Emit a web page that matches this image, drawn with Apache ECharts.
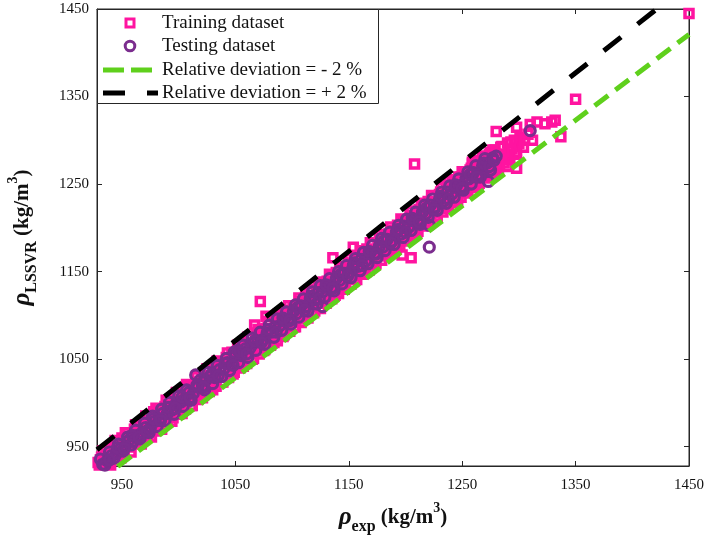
<!DOCTYPE html>
<html>
<head>
<meta charset="utf-8">
<script src="https://cdn.jsdelivr.net/npm/echarts@6/dist/echarts.min.js"></script>
<style>
html,body{margin:0;padding:0;background:#fff;}
#chart{width:709px;height:541px;}
</style>
</head>
<body>
<div id="chart"></div>
<script>
// ---- data ----
const tickValues = [950, 1050, 1150, 1250, 1350, 1450];
const axisMin = 928, axisMax = 1450;

const trainingData = [
[929,932],[930,929],[932,938],[934,930],[936,941],[937,931],[939,946],[941,936],[943,940],[945,951],[946,938],[948,944],[950,960],[952,945],[954,951],[955,966],[957,950],[959,955],[961,970],[963,954],[964,962],[966,975],[968,960],[970,966],[972,980],[973,962],[975,972],[977,985],[979,968],[981,975],[982,990],[984,972],[986,982],[988,996],[990,978],[991,988],[993,1002],[995,983],[997,991],[999,1008],[1000,987],[1002,998],[1004,1013],[1006,993],[1008,1003],[1009,1018],[1011,997],[1013,1009],[1015,1024],[1017,1004],[1018,1014],[1020,1031],[1022,1009],[1024,1020],[1026,1036],[1027,1013],[1029,1025],[1031,1042],[1033,1019],[1035,1030],[1036,1047],[1038,1024],[1040,1036],[1042,1052],[1044,1029],[1045,1041],[1047,1058],[1049,1035],[1051,1046],[1053,1063],[1054,1040],[1056,1051],[1058,1068],[1060,1045],[1062,1057],[1063,1074],[1065,1050],[1067,1062],[1069,1079],[1071,1056],[1072,1067],[1074,1084],[1076,1061],[1078,1073],[1080,1090],[1081,1066],[1083,1078],[1085,1095],[1087,1071],[1089,1084],[1090,1100],[1092,1076],[1094,1089],[1096,1106],[1098,1082],[1099,1094],[1101,1111],[1103,1087],[1105,1100],[1107,1116],[1108,1092],[1110,1105],[1112,1122],[1114,1097],[1116,1110],[1117,1127],[1119,1103],[1121,1116],[1123,1132],[1125,1108],[1126,1121],[1128,1138],[1130,1114],[1132,1127],[1134,1143],[1135,1119],[1137,1132],[1139,1149],[1141,1125],[1143,1138],[1144,1154],[1146,1130],[1148,1143],[1150,1160],[1152,1136],[1153,1148],[1155,1165],[1157,1141],[1159,1154],[1161,1170],[1162,1147],[1164,1159],[1166,1176],[1168,1152],[1170,1165],[1171,1181],[1173,1158],[1175,1170],[1177,1187],[1179,1163],[1180,1175],[1182,1192],[1184,1169],[1186,1181],[1188,1197],[1189,1174],[1191,1186],[1193,1203],[1195,1180],[1197,1192],[1198,1208],[1200,1185],[1202,1197],[1204,1214],[1206,1191],[1207,1202],[1209,1219],[1211,1196],[1213,1208],[1215,1225],[1216,1202],[1218,1213],[1220,1230],[1222,1207],[1224,1219],[1225,1236],[1227,1213],[1229,1224],[1231,1241],[1233,1218],[1234,1230],[1236,1247],[1238,1224],[1240,1235],[1242,1252],[1243,1229],[1245,1241],[1247,1258],[1249,1235],[1251,1246],[1252,1263],[1254,1240],[1256,1252],[1258,1268],[1260,1246],[1261,1257],[1263,1274],[1265,1251],[1267,1263],[1269,1279],[1270,1257],[1272,1268],[1274,1284],[1276,1262],[1278,1273],[1279,1289],[1281,1268],[1283,1279],[1285,1293],[1287,1274],[1288,1284],[1290,1297],[1292,1280],[1294,1290],[1296,1300],[1298,1286],[1300,1296],
[931,935],[935,938],[938,933],[942,949],[947,941],[951,955],[956,950],[960,964],[965,958],[969,973],[974,969],[978,990],[983,977],[987,991],[992,985],[996,1004],[1001,994],[1005,1009],[1010,1004],[1014,1020],[1019,1011],[1023,1028],[1028,1019],[1032,1038],[1037,1031],[1041,1047],[1046,1038],[1050,1057],[1055,1047],[1059,1066],[1064,1058],[1068,1075],[1073,1064],[1077,1085],[1082,1074],[1086,1092],[1091,1082],[1095,1101],[1100,1093],[1104,1111],[1109,1100],[1113,1119],[1118,1110],[1122,1129],[1127,1117],[1131,1139],[1136,1127],[1140,1147],[1145,1136],[1149,1156],[1154,1145],[1158,1166],[1163,1155],[1167,1174],[1172,1163],[1176,1183],[1181,1172],[1185,1193],[1190,1181],[1194,1201],[1199,1190],[1203,1210],[1208,1199],[1212,1221],[1217,1208],[1221,1229],[1226,1217],[1230,1238],[1235,1226],[1239,1248],[1244,1234],[1248,1257],[1253,1244],[1257,1266],[1262,1252],[1266,1276],[1271,1261],[1275,1286],[1280,1270],[1284,1292],[1289,1278],[1293,1298],[1297,1284],[1301,1303],[1304,1292],[1308,1307],[1312,1300],
[933,945],[940,929],[944,957],[949,937],[953,966],[958,944],[962,975],[967,953],[971,985],[976,961],[980,994],[985,970],[989,1003],[994,979],[998,1012],[1003,988],[1007,1021],[1012,997],[1016,1030],[1021,1006],[1025,1039],[1030,1015],[1034,1048],[1039,1024],[1043,1057],[1048,1033],[1052,1066],[1057,1042],[1061,1075],[1066,1051],[1070,1084],[1075,1060],[1079,1093],[1084,1069],[1088,1102],[1093,1078],[1097,1111],[1102,1087],[1106,1120],[1111,1096],[1115,1129],[1120,1105],[1124,1138],[1129,1114],[1133,1147],[1138,1123],[1142,1156],[1147,1132],[1151,1165],[1156,1141],[1160,1174],[1165,1150],[1169,1183],[1174,1159],[1178,1192],[1183,1168],[1187,1201],[1192,1177],[1196,1210],[1201,1186],[1205,1219],[1210,1195],[1214,1228],[1219,1204],[1223,1237],[1228,1213],[1232,1246],[1237,1222],[1241,1255],[1246,1231],[1250,1264],[1255,1240],[1259,1273],[1264,1249],[1268,1282],[1273,1258],[1277,1289],[1282,1265],
[1072,1116],[1067,1089],[1077,1099],[1136,1166],[1154,1178],[1208,1273],[1205,1166],[1197,1169],[1280,1310],[1298,1315],[1316,1321],[1323,1319],[1329,1321],[1332,1323],[1337,1304],[1350,1347],[1450,1445],[1260,1277],[1298,1268],[1310,1318],[1305,1300],[1290,1270],[1259,1275],[1249,1258],[1238,1254]
];

const testingData = [
[933,930],[937,934],[941,940],[945,942],[949,948],[953,951],[956,957],[960,956],[964,963],[968,966],[971,972],[975,971],[979,979],[983,981],[986,988],[990,988],[994,992],[998,1000],[1002,1001],[1005,1004],[1009,1012],[1013,1011],[1015,1032],[1017,1018],[1021,1019],[1024,1026],[1028,1030],[1032,1029],[1036,1038],[1040,1039],[1043,1046],[1047,1044],[1050,1055],[1052,1060],[1055,1054],[1059,1062],[1063,1063],[1066,1068],[1070,1071],[1074,1072],[1078,1080],[1082,1081],[1085,1087],[1089,1088],[1093,1094],[1097,1096],[1101,1104],[1104,1102],[1108,1111],[1112,1110],[1116,1119],[1120,1118],[1123,1126],[1127,1110],[1127,1127],[1131,1133],[1135,1132],[1139,1142],[1142,1140],[1146,1148],[1150,1149],[1154,1157],[1158,1156],[1161,1164],[1165,1162],[1169,1172],[1173,1171],[1177,1179],[1180,1178],[1184,1187],[1188,1185],[1192,1195],[1196,1193],[1199,1202],[1203,1201],[1207,1209],[1211,1209],[1215,1218],[1218,1216],[1221,1203],[1221,1178],[1222,1226],[1226,1224],[1230,1233],[1234,1231],[1237,1241],[1241,1239],[1245,1248],[1249,1247],[1253,1255],[1256,1256],[1260,1263],[1264,1261],[1268,1271],[1272,1274],[1273,1253],[1277,1280],[1310,1311],
[931,936],[935,929],[939,944],[943,937],[947,953],[951,945],[955,961],[958,952],[962,969],[966,959],[970,977],[974,966],[977,985],[981,973],[985,993],[988,980],[992,1001],[996,987],[1000,1008],[1004,996],[1007,1015],[1011,1003],[1019,1026],[1023,1015],[1026,1035],[1030,1022],[1034,1043],[1038,1030],[1042,1051],[1045,1037],[1049,1058],[1053,1046],[1057,1066],[1061,1052],[1065,1074],[1068,1060],[1072,1081],[1076,1067],[1080,1089],[1084,1075],[1087,1096],[1091,1083],[1095,1104],[1099,1090],[1103,1112],[1106,1098],[1110,1119],[1114,1105],[1118,1127],[1122,1113],[1125,1134],[1129,1121],[1133,1142],[1137,1128],[1141,1150],[1144,1136],[1148,1157],[1152,1143],[1156,1165],[1160,1151],[1163,1172],[1167,1159],[1171,1180],[1175,1166],[1179,1188],[1182,1174],[1186,1195],[1190,1181],[1194,1203],[1198,1189],[1201,1210],[1205,1197],[1209,1218],[1213,1204],[1217,1226],[1220,1212],[1224,1233],[1228,1220],[1232,1241],[1236,1228],[1239,1248],[1243,1235],[1247,1256],[1251,1243],[1255,1264],[1258,1250],[1262,1271],[1266,1258],[1270,1279],[1275,1266],[1280,1282],
[939,935],[946,949],[952,948],[959,963],[965,961],[972,968],[978,982],[984,980],[991,995],[997,994],[1003,1007],[1010,1006],[1016,1020],[1022,1018],[1029,1033],[1035,1031],[1041,1045],[1048,1043],[1054,1059],[1060,1056],[1067,1071],[1073,1069],[1079,1084],[1086,1081],[1092,1097],[1098,1094],[1105,1109],[1111,1106],[1117,1122],[1124,1119],[1130,1135],[1136,1131],[1143,1147],[1149,1145],[1155,1160],[1162,1157],[1168,1173],[1174,1170],[1181,1185],[1187,1183],[1193,1198],[1200,1195],[1206,1211],[1212,1207],[1219,1223],[1225,1221],[1231,1236],[1238,1233],[1244,1249],[1250,1245],[1257,1261],[1263,1258],[1269,1274],[1274,1270],[1278,1277]
];

const minusLine = [[928, 909.4], [1450, 1421]];
const plusLine = [[928, 946.6], [1450, 1479]];

const legendNames = ['Training dataset', 'Testing dataset', 'Relative deviation = - 2 %', 'Relative deviation = + 2 %'];

// ---- styles ----
const serif = 'Liberation Serif';
const axisColor = '#262626';
const pink = '#FF14A0';
const purple = '#7B2D8E';
const green = '#5FD01C';

const chart = echarts.init(document.getElementById('chart'), null, {renderer: 'canvas'});

function fmt(v) { return String(v); }
function mainAxis(extra) {
  return Object.assign({
    type: 'value', min: axisMin, max: axisMax,
    splitLine: {show: false},
    axisLine: {show: true, onZero: false, lineStyle: {color: axisColor, width: 1}},
    axisTick: {show: true, inside: true, length: 5, customValues: tickValues, lineStyle: {color: axisColor}}
  }, extra);
}
function mirrorAxis(extra) {
  return Object.assign({
    type: 'value', min: axisMin, max: axisMax,
    splitLine: {show: false},
    axisLine: {show: true, onZero: false, lineStyle: {color: axisColor, width: 1}},
    axisTick: {show: true, inside: true, length: 5, customValues: tickValues, lineStyle: {color: axisColor}},
    axisLabel: {show: false}
  }, extra);
}

const nameRich = {
  r: {fontFamily: serif, fontStyle: 'italic', fontWeight: 'bold', fontSize: 25, lineHeight: 34, verticalAlign: 'middle', color: '#111'},
  s: {fontFamily: serif, fontWeight: 'bold', fontSize: 16, verticalAlign: 'bottom', color: '#111'},
  m: {fontFamily: serif, fontWeight: 'bold', fontSize: 21, verticalAlign: 'middle', color: '#111'},
  p: {fontFamily: serif, fontWeight: 'bold', fontSize: 14, verticalAlign: 'top', color: '#111'}
};

// legend geometry (drawn as graphic)
const lgX = 97, lgY = 9, lgW = 281, lgH = 94;
const rowY = [23, 46, 70, 93];
const iconCx = 130, iconL = 103, iconR = 158, textX = 162;

const legendGraphics = [
  {type: 'rect', shape: {x: lgX + 0.5, y: lgY + 0.5, width: lgW, height: lgH}, style: {fill: '#fff', stroke: axisColor, lineWidth: 1}, z: 100},
  {type: 'rect', shape: {x: iconCx - 4, y: rowY[0] - 4, width: 8, height: 8}, style: {fill: 'none', stroke: pink, lineWidth: 3}, z: 101},
  {type: 'circle', shape: {cx: iconCx, cy: rowY[1], r: 4.8}, style: {fill: 'none', stroke: purple, lineWidth: 3}, z: 101},
  {type: 'line', shape: {x1: iconL, y1: rowY[2], x2: iconR, y2: rowY[2]}, style: {stroke: green, lineWidth: 5, lineDash: [21, 7]}, z: 101},
  {type: 'line', shape: {x1: iconL, y1: rowY[3], x2: iconR, y2: rowY[3]}, style: {stroke: '#000', lineWidth: 5, lineDash: [22, 22]}, z: 101}
].concat(legendNames.map((n, i) => ({
  type: 'text', x: textX, y: rowY[i], z: 101,
  style: {text: n, fill: '#111', font: '19px "Liberation Serif"', verticalAlign: 'middle', align: 'left'}
})));

const option = {
  animation: false,
  backgroundColor: '#fff',
  grid: {left: 97, right: 20, top: 9, bottom: 75, show: true, borderColor: axisColor, borderWidth: 1, containLabel: false, outerBoundsMode: 'none'},
  xAxis: [
    mainAxis({position: 'bottom',
      axisLabel: {show: true, customValues: tickValues, formatter: fmt, fontFamily: serif, fontSize: 15, color: '#111', margin: 12},
      name: '{r|ρ}{s|exp}{m| (kg/m}{p|3}{m|)}', nameLocation: 'middle', nameGap: 35,
      nameTextStyle: {rich: nameRich}}),
    mirrorAxis({position: 'top'})
  ],
  yAxis: [
    mainAxis({position: 'left',
      axisLabel: {show: true, customValues: tickValues, formatter: fmt, fontFamily: serif, fontSize: 15, color: '#111', margin: 8},
      name: '{r|ρ}{s|LSSVR}{m| (kg/m}{p|3}{m|)}', nameLocation: 'middle', nameGap: 57, nameRotate: 90,
      nameTextStyle: {rich: nameRich}}),
    mirrorAxis({position: 'right'})
  ],
  graphic: legendGraphics,
  series: [
    {
      name: legendNames[0], type: 'scatter', xAxisIndex: 0, yAxisIndex: 0,
      data: trainingData, symbol: 'rect', symbolSize: 8,
      itemStyle: {color: 'rgba(255,255,255,0)', borderColor: pink, borderWidth: 3.5, opacity: 1}
    },
    {
      name: legendNames[1], type: 'scatter', xAxisIndex: 0, yAxisIndex: 0,
      data: testingData, symbol: 'circle', symbolSize: 10,
      itemStyle: {color: 'rgba(255,255,255,0)', borderColor: purple, borderWidth: 3.2, opacity: 1}
    },
    {
      name: legendNames[2], type: 'line', xAxisIndex: 0, yAxisIndex: 0,
      data: minusLine, showSymbol: false, symbol: 'none', clip: true,
      lineStyle: {color: green, width: 5, type: [17, 9], cap: 'butt'}
    },
    {
      name: legendNames[3], type: 'line', xAxisIndex: 0, yAxisIndex: 0,
      data: plusLine, showSymbol: false, symbol: 'none', clip: true,
      lineStyle: {color: '#000', width: 5, type: [22, 21], cap: 'butt'}
    }
  ]
};
chart.setOption(option);
</script>
</body>
</html>
